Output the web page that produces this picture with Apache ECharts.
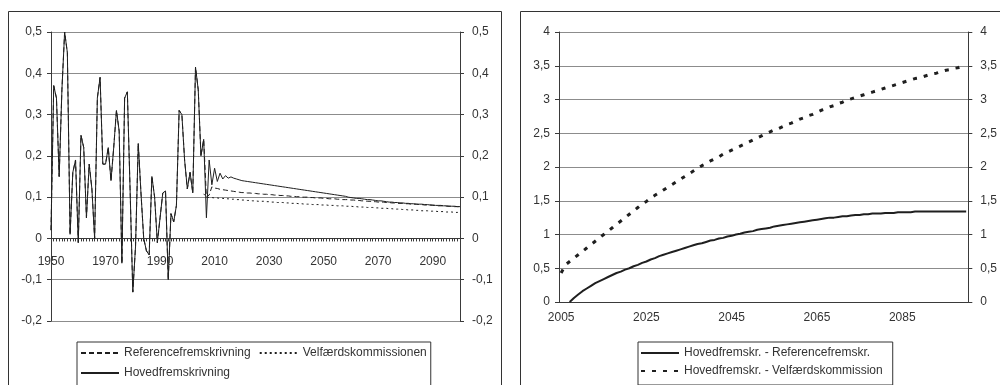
<!DOCTYPE html>
<html>
<head>
<meta charset="utf-8">
<script src="https://cdn.jsdelivr.net/npm/echarts@6/dist/echarts.min.js"></script>
<style>
html,body{margin:0;padding:0;background:#fff;}
#c{width:1000px;height:385px;}
</style>
</head>
<body>
<div id="c"></div>
<script>
// ---- Categories ----
const yearsLeft = [];
for (let y = 1950; y <= 2100; y++) yearsLeft.push(String(y));
const yearsRight = [];
for (let y = 2005; y <= 2100; y++) yearsRight.push(String(y));

// ---- Left chart: historical values 1950-2006 (shared by both projections) ----
const historical = [
  0.02,0.37,0.34,0.15,0.36,0.50,0.45,0.01,0.16,0.19,
  -0.01,0.25,0.22,0.05,0.18,0.12,0.00,0.34,0.39,0.18,
  0.18,0.22,0.14,0.22,0.31,0.26,-0.06,0.34,0.355,0.12,
  -0.13,-0.02,0.23,0.11,0.00,-0.03,-0.04,0.15,0.10,-0.01,
  0.05,0.11,0.115,-0.10,0.06,0.04,0.08,0.31,0.30,0.19,
  0.12,0.16,0.11,0.415,0.36,0.20,0.24
];
// Hovedfremskrivning 2007-2100
const hovedProjection = [
  0.05,0.19,0.13,
  0.17,0.138,0.158,0.144,0.152,0.146,0.149,0.146,0.144,0.142,
  0.140,0.139,0.138,0.137,0.136,0.135,0.134,0.133,0.132,0.131,
  0.130,0.129,0.128,0.127,0.126,0.125,0.124,0.123,0.122,0.121,
  0.120,0.119,0.118,0.117,0.116,0.115,0.114,0.113,0.112,0.111,
  0.110,0.109,0.108,0.107,0.106,0.105,0.104,0.103,0.102,0.100,
  0.099,0.098,0.097,0.097,0.096,0.095,0.094,0.094,0.093,0.092,
  0.091,0.091,0.090,0.089,0.088,0.088,0.087,0.087,0.086,0.086,
  0.085,0.085,0.084,0.084,0.083,0.083,0.083,0.082,0.082,0.081,
  0.081,0.080,0.080,0.080,0.079,0.079,0.078,0.078,0.078,0.077,
  0.077
];
// Referencefremskrivning 2007-2100
const referenceProjection = [
  0.100,0.105,0.125,
  0.122,0.121,0.119,0.118,0.117,0.116,0.115,0.114,0.113,0.112,
  0.111,0.111,0.110,0.110,0.109,0.109,0.108,0.108,0.107,0.107,
  0.106,0.106,0.105,0.105,0.104,0.104,0.103,0.103,0.102,0.102,
  0.101,0.101,0.100,0.100,0.100,0.099,0.099,0.098,0.098,0.098,
  0.097,0.097,0.096,0.096,0.096,0.095,0.095,0.094,0.094,0.094,
  0.093,0.093,0.092,0.092,0.091,0.091,0.090,0.090,0.089,0.089,
  0.088,0.088,0.088,0.087,0.087,0.086,0.086,0.085,0.085,0.085,
  0.084,0.084,0.083,0.083,0.083,0.082,0.082,0.081,0.081,0.081,
  0.080,0.080,0.079,0.079,0.079,0.078,0.078,0.078,0.077,0.077,
  0.077
];
// Velfærdskommissionen 2006-2100
const velfaerdProjection = [
  0.108,0.100,0.099,0.099,
  0.098,0.098,0.097,0.097,0.096,0.096,0.095,0.095,0.094,0.094,
  0.093,0.093,0.092,0.092,0.091,0.091,0.090,0.090,0.090,0.089,
  0.089,0.088,0.088,0.087,0.087,0.087,0.086,0.086,0.085,0.085,
  0.085,0.084,0.084,0.083,0.083,0.083,0.082,0.082,0.082,0.081,
  0.081,0.081,0.080,0.080,0.080,0.079,0.079,0.079,0.078,0.078,
  0.078,0.077,0.077,0.076,0.076,0.076,0.075,0.075,0.075,0.074,
  0.074,0.073,0.073,0.073,0.072,0.072,0.071,0.071,0.071,0.070,
  0.070,0.069,0.069,0.069,0.068,0.068,0.067,0.067,0.067,0.066,
  0.066,0.066,0.065,0.065,0.065,0.064,0.064,0.064,0.063,0.063,
  0.063
];

// ---- Right chart: differences 2005-2100 ----
const diffReference = [
  null,null,0.00,0.06,0.11,
  0.16,0.20,0.24,0.28,0.31,0.34,0.37,0.40,0.43,0.45,
  0.48,0.50,0.53,0.55,0.58,0.60,0.63,0.65,0.68,0.70,
  0.72,0.74,0.76,0.78,0.80,0.82,0.84,0.86,0.87,0.89,
  0.91,0.92,0.94,0.95,0.97,0.98,1.00,1.01,1.03,1.04,
  1.05,1.07,1.08,1.09,1.10,1.12,1.13,1.14,1.15,1.16,
  1.17,1.18,1.19,1.20,1.21,1.22,1.23,1.24,1.25,1.25,
  1.26,1.27,1.27,1.28,1.29,1.29,1.30,1.30,1.31,1.31,
  1.31,1.32,1.32,1.32,1.33,1.33,1.33,1.33,1.34,1.34,
  1.34,1.34,1.34,1.34,1.34,1.34,1.34,1.34,1.34,1.34,
  1.34
];
const diffVelfaerd = [
  0.43,0.55,0.60,0.65,0.70,
  0.75,0.80,0.85,0.90,0.95,1.00,1.05,1.10,1.15,1.20,
  1.25,1.30,1.35,1.40,1.45,1.49,1.54,1.58,1.62,1.66,
  1.70,1.74,1.78,1.82,1.86,1.90,1.94,1.98,2.02,2.05,
  2.09,2.12,2.15,2.19,2.22,2.25,2.28,2.31,2.34,2.37,
  2.40,2.43,2.46,2.49,2.52,2.55,2.57,2.60,2.63,2.65,
  2.68,2.71,2.73,2.76,2.78,2.81,2.84,2.86,2.89,2.91,
  2.94,2.96,2.99,3.01,3.03,3.05,3.07,3.09,3.11,3.13,
  3.15,3.17,3.19,3.21,3.23,3.25,3.27,3.29,3.31,3.32,
  3.34,3.36,3.38,3.39,3.41,3.43,3.44,3.46,3.47,3.49,
  3.50
];

const seriesNamesLeft = ['Referencefremskrivning', 'Velfærdskommissionen', 'Hovedfremskrivning'];
const seriesNamesRight = ['Hovedfremskr. - Referencefremskr.', 'Hovedfremskr. - Velfærdskommission'];

// ---- Assemble ----
const hovedSeries = historical.concat(hovedProjection);
const referenceSeries = historical.concat(referenceProjection);
const velfaerdSeries = new Array(yearsLeft.length - velfaerdProjection.length).fill(null).concat(velfaerdProjection);

const FONT = '"Liberation Sans", Arial, sans-serif';
const TEXT = '#333333';
const AXIS = '#3a3a3a';
const GRID = '#8c8c8c';
const LINE = '#1f1f1f';
const fmt = v => String(Math.round(v * 10) / 10).replace('.', ',');

const LEFT_MIN = -0.2, LEFT_MAX = 0.5;
const GRID_L = { left: 51, right: 540, top: 32, bottom: 64 };
const gridLHeight = 385 - GRID_L.top - GRID_L.bottom;
// move the category axis up so it sits on the zero value
const zeroOffset = -((0 - LEFT_MIN) / (LEFT_MAX - LEFT_MIN)) * gridLHeight;

function yAxisCfg(grid, pos, min, max, interval, split) {
  return {
    type: 'value', gridIndex: grid, position: pos, min: min, max: max, interval: interval,
    axisLine: { show: true, lineStyle: { color: AXIS, width: 1 } },
    axisTick: { show: true, length: 4, lineStyle: { color: AXIS } },
    axisLabel: { formatter: fmt, fontSize: 12, color: TEXT, fontFamily: FONT, margin: pos === 'left' ? 9 : 12 },
    splitLine: { show: split, lineStyle: { color: GRID, width: 1 } }
  };
}

const legendSymbolHidden = { color: 'rgba(0,0,0,0)', borderColor: 'rgba(0,0,0,0)', borderWidth: 0 };

const chart = echarts.init(document.getElementById('c'), null, { renderer: 'canvas' });
chart.setOption({
  animation: false,
  backgroundColor: '#ffffff',
  textStyle: { fontFamily: FONT, color: TEXT },
  graphic: [
    { type: 'rect', silent: true, shape: { x: 8.5, y: 11.5, width: 493, height: 420 }, style: { fill: 'none', stroke: '#333', lineWidth: 1 } },
    { type: 'rect', silent: true, shape: { x: 520.5, y: 11.5, width: 500, height: 420 }, style: { fill: 'none', stroke: '#333', lineWidth: 1 } }
  ],
  grid: [
    GRID_L,
    { left: 559, right: 25, top: 32, bottom: 83 }
  ],
  xAxis: [
    {
      type: 'category', gridIndex: 0, data: yearsLeft, boundaryGap: false,
      position: 'bottom', offset: zeroOffset,
      axisLine: { onZero: false, lineStyle: { color: AXIS } },
      axisTick: { interval: 0, length: 3, lineStyle: { color: AXIS } },
      axisLabel: { interval: 19, margin: 17, fontSize: 12, color: TEXT, fontFamily: FONT },
      splitLine: { show: false }
    },
    {
      type: 'category', gridIndex: 1, data: yearsRight, boundaryGap: true,
      axisLine: { onZero: false, lineStyle: { color: AXIS } },
      axisTick: { interval: 0, length: 3, lineStyle: { color: AXIS } },
      axisLabel: { interval: 19, margin: 10, fontSize: 12, color: TEXT, fontFamily: FONT },
      splitLine: { show: false }
    }
  ],
  yAxis: [
    yAxisCfg(0, 'left', LEFT_MIN, LEFT_MAX, 0.1, true),
    yAxisCfg(0, 'right', LEFT_MIN, LEFT_MAX, 0.1, false),
    yAxisCfg(1, 'left', 0, 4, 0.5, true),
    yAxisCfg(1, 'right', 0, 4, 0.5, false)
  ],
  legend: [
    {
      data: seriesNamesLeft, left: 77, top: 342, width: 356, orient: 'horizontal',
      itemWidth: 38, itemHeight: 12, itemGap: 8, padding: [5, 4, 8, 3],
      borderColor: '#333', borderWidth: 1, borderRadius: 0, backgroundColor: '#fff',
      itemStyle: legendSymbolHidden,
      textStyle: { fontSize: 12, color: TEXT, fontFamily: FONT },
      selectedMode: false
    },
    {
      data: seriesNamesRight, left: 638, top: 342, orient: 'vertical',
      itemWidth: 38, itemHeight: 12, itemGap: 6, padding: [5, 10, 8, 2],
      borderColor: '#333', borderWidth: 1, borderRadius: 0, backgroundColor: '#fff',
      itemStyle: legendSymbolHidden,
      textStyle: { fontSize: 12, color: TEXT, fontFamily: FONT },
      selectedMode: false
    }
  ],
  series: [
    {
      name: seriesNamesLeft[0], type: 'line', xAxisIndex: 0, yAxisIndex: 0, data: referenceSeries,
      symbol: 'none', color: LINE, lineStyle: { color: LINE, width: 1, type: [5, 3] }
    },
    {
      name: seriesNamesLeft[1], type: 'line', xAxisIndex: 0, yAxisIndex: 0, data: velfaerdSeries,
      symbol: 'none', color: LINE, lineStyle: { color: LINE, width: 1, type: [2, 3] }
    },
    {
      name: seriesNamesLeft[2], type: 'line', xAxisIndex: 0, yAxisIndex: 0, data: hovedSeries,
      symbol: 'none', color: LINE, lineStyle: { color: LINE, width: 1 }
    },
    {
      name: seriesNamesRight[0], type: 'line', xAxisIndex: 1, yAxisIndex: 2, data: diffReference,
      symbol: 'none', color: LINE, lineStyle: { color: LINE, width: 2 }
    },
    {
      name: seriesNamesRight[1], type: 'line', xAxisIndex: 1, yAxisIndex: 2, data: diffVelfaerd,
      symbol: 'none', color: LINE, lineStyle: { color: LINE, width: 3, type: [4, 7] }
    }
  ]
});
</script>
</body>
</html>
